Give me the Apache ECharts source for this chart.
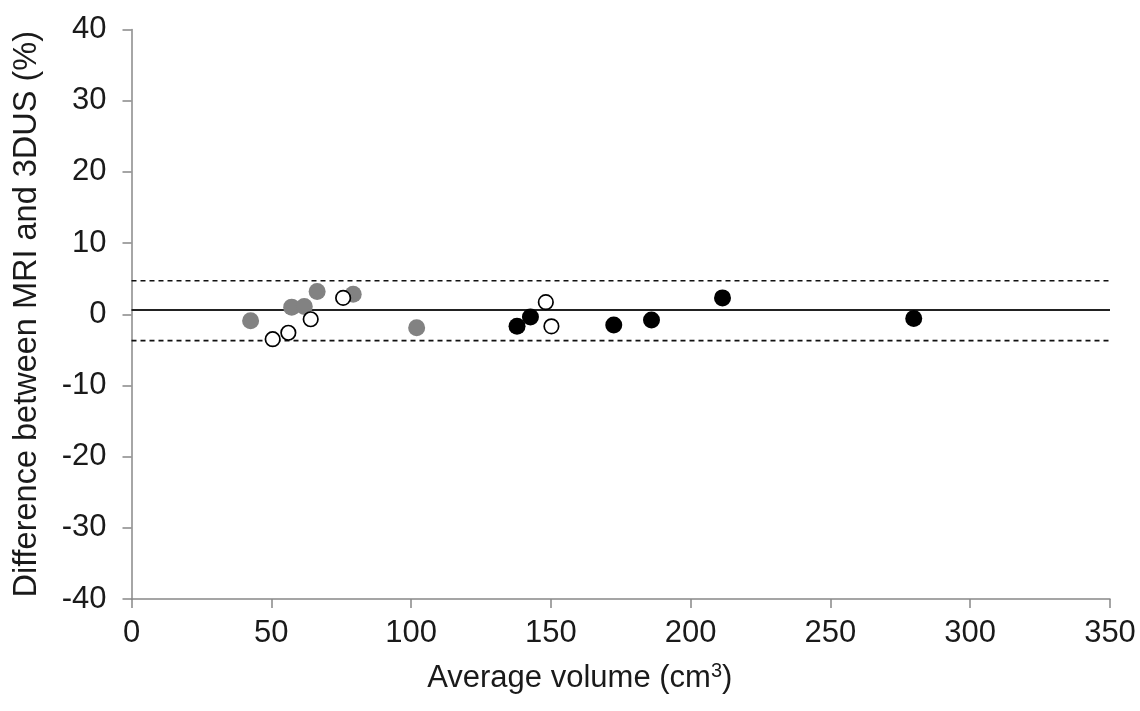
<!DOCTYPE html>
<html>
<head>
<meta charset="utf-8">
<script src="https://cdn.jsdelivr.net/npm/echarts@6/dist/echarts.min.js"></script>
<style>
    html, body { margin: 0; padding: 0; background: #fff; }
    #main { width: 1140px; height: 711px; }
</style>
</head>
<body>
<div id="main"></div>
<script>
// data: [average volume, difference %]
var blackPts = [[137.9, -1.7], [142.7, -0.4], [172.5, -1.5], [186, -0.8], [211.4, 2.3], [279.8, -0.6]];
var grayPts = [[42.6, -0.9], [57.3, 1.0], [61.8, 1.1], [66.4, 3.2], [79.3, 2.8], [102, -1.9]];
var openPts = [[50.5, -3.5], [56.1, -2.6], [64.1, -0.7], [75.7, 2.3], [148.2, 1.7], [150.2, -1.7]];
var refX = [0, 350];
var meanDiff = 0.6;
var upperLimit = 4.7;
var lowerLimit = -3.7;
var xTicks = [0, 50, 100, 150, 200, 250, 300, 350];
var yTicks = [-40, -30, -20, -10, 0, 10, 20, 30, 40];

function hline(v) {
    return refX.map(function (x) { return [x, v]; });
}

var font = 'Liberation Sans, Arial, sans-serif';
var axisColor = '#888';

var myChart = echarts.init(document.getElementById('main'));
var option = {
    animation: false,
    backgroundColor: '#fff',
    grid: { left: 131.5, right: 30, top: 29.5, bottom: 112 },
    xAxis: {
        type: 'value',
        min: xTicks[0],
        max: xTicks[xTicks.length - 1],
        interval: 50,
        name: 'Average volume (cm{sup|3})',
        nameLocation: 'middle',
        nameGap: 62,
        nameTextStyle: {
            fontFamily: font, fontSize: 31, color: '#1a1a1a',
            padding: [0, 82, 0, 0],   // title sits left of centre in the original
            rich: { sup: { fontFamily: font, fontSize: 20, color: '#1a1a1a', verticalAlign: 'top', padding: [0, 0, 14, 0] } }
        },
        axisLine: { onZero: false, lineStyle: { color: axisColor, width: 1.5 } },
        axisTick: { length: 9, lineStyle: { color: axisColor, width: 1.5 } },
        axisLabel: { margin: 19, fontFamily: font, fontSize: 31, color: '#1a1a1a' },
        splitLine: { show: false }
    },
    yAxis: {
        type: 'value',
        min: yTicks[0],
        max: yTicks[yTicks.length - 1],
        interval: 10,
        name: 'Difference between MRI and 3DUS (%)',
        nameLocation: 'middle',
        nameGap: 88,
        nameTextStyle: { fontFamily: font, fontSize: 32.5, color: '#1a1a1a' },
        axisLine: { show: true, lineStyle: { color: axisColor, width: 1.5 } },
        axisTick: { show: true, length: 9, lineStyle: { color: axisColor, width: 1.5 } },
        axisLabel: { margin: 25, fontFamily: font, fontSize: 31, color: '#1a1a1a' },
        splitLine: { show: false }
    },
    series: [
        {
            type: 'line', data: hline(meanDiff), symbol: 'none',
            lineStyle: { color: '#222', width: 2 }, z: 1
        },
        {
            type: 'line', data: hline(upperLimit), symbol: 'none',
            lineStyle: { color: '#111', width: 1.6, type: [5, 4] }, z: 1
        },
        {
            type: 'line', data: hline(lowerLimit), symbol: 'none',
            lineStyle: { color: '#111', width: 1.6, type: [5, 4] }, z: 1
        },
        {
            type: 'scatter', data: grayPts, symbolSize: 17,
            itemStyle: { color: '#828282', opacity: 1 }, z: 3
        },
        {
            type: 'scatter', data: blackPts, symbolSize: 17,
            itemStyle: { color: '#000', opacity: 1 }, z: 3
        },
        {
            type: 'scatter', data: openPts, symbolSize: 14.5,
            itemStyle: { color: '#fff', borderColor: '#000', borderWidth: 1.7, opacity: 1 }, z: 4
        }
    ]
};
myChart.setOption(option);
</script>
</body>
</html>
